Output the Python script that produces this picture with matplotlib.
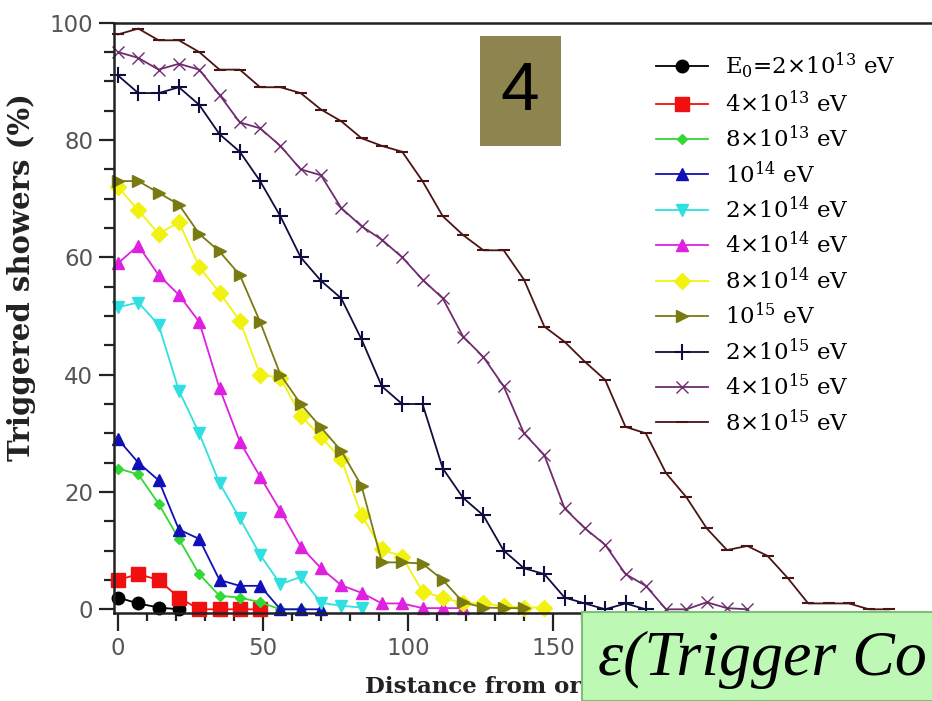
import matplotlib
matplotlib.use("Agg")
import matplotlib.pyplot as plt
from matplotlib.patches import Rectangle
from matplotlib.ticker import MultipleLocator

plt.rcParams['mathtext.fontset'] = 'dejavuserif'

W, H = 932, 701
step = 7  # distance step between points

labels = [r'E$_0$=2×10$^{13}$ eV', r'4×10$^{13}$ eV', r'8×10$^{13}$ eV', r'10$^{14}$ eV',
          r'2×10$^{14}$ eV', r'4×10$^{14}$ eV', r'8×10$^{14}$ eV', r'10$^{15}$ eV',
          r'2×10$^{15}$ eV', r'4×10$^{15}$ eV', r'8×10$^{15}$ eV']
x_ticks = [0, 50, 100, 150, 200, 250]
x_tick_labels = ['0', '50', '100', '150', '', '']

e_2e13 = [2, 1, 0.3, 0]
e_4e13 = [5, 6, 5, 2, 0, 0, 0, 0]
e_8e13 = [24, 23, 18, 12, 6, 2.3, 2, 1.2, 0, 0]
e_1e14 = [29, 25, 22, 13.6, 12, 5, 4, 4, 0, 0, 0]
e_2e14 = [51.5, 52.3, 48.5, 37.3, 30, 21.5, 15.5, 9.3, 4.3, 5.5, 1.1, 0.6, 0.3]
e_4e14 = [59, 62, 57, 53.6, 49, 37.7, 28.6, 22.6, 16.8, 10.7, 7, 4.1, 2.8, 1, 1, 0.2, 0.2, 0.2]
e_8e14 = [72, 68, 64, 66, 58.4, 54, 49.2, 40, 39.5, 33, 29.4, 25.6, 16, 10.2, 9, 3, 2, 1, 1,
          0.5, 0.3, 0.3]
e_1e15 = [73, 73, 71, 69, 64, 61, 57, 49, 40, 35, 31, 27, 21, 8, 8, 7.8, 5, 1.2, 0.3, 0.2, 0.2]
e_2e15 = [91, 88, 88, 89, 86, 81, 78, 73, 67, 60, 56, 53, 46, 38, 35, 35, 24, 19, 16, 10, 7, 6,
          2, 1, 0, 1, 0]
e_4e15 = [95, 94, 92, 93, 92, 87.7, 83, 82, 79, 75, 74, 68.4, 65.3, 63, 60, 56.2, 53, 46.5, 43,
          38, 30, 26.3, 17.2, 13.8, 11, 6, 4, 0, 0, 1.2, 0.2, 0]
e_8e15 = [98, 99, 97, 97, 95, 92, 92, 89, 89, 88, 85.2, 83.2, 80.3, 79, 78, 73, 67, 63.8, 61.2,
          61.2, 56.2, 48.2, 45.6, 42.2, 39.1, 31.1, 30, 23.2, 19.1, 13.8, 10.1, 10.8, 9.1, 5.3,
          1, 1, 1, 0, 0]

series = [e_2e13, e_4e13, e_8e13, e_1e14, e_2e14, e_4e14, e_8e14, e_1e15, e_2e15, e_4e15, e_8e15]
colors = ['#000000', '#F01010', '#33D833', '#1010B8', '#30E0E0', '#E020E0', '#F2F210',
          '#7A7A12', '#0E0E40', '#6E2C6E', '#4A1515']
markers = ['o', 's', 'D', '^', 'v', '^', 'D', '>', '+', 'x', '_']
msizes = [9, 10, 5.5, 8, 9, 9, 8, 9, 11, 9, 9]
mews = [1, 1, 1, 1, 1, 1, 1, 1, 1.5, 1.0, 1.5]

fig = plt.figure(figsize=(W / 100, H / 100), dpi=100)
ax = fig.add_axes([114 / W, 1 - 613 / H, (945 - 114) / W, (613 - 22.7) / H])

for ys, c, m, ms, mew, lab in zip(series, colors, markers, msizes, mews, labels):
    xs = [step * i for i in range(len(ys))]
    ax.plot(xs, ys, color=c, marker=m, markersize=ms, markeredgewidth=mew, lw=1.3,
            markeredgecolor=c, markerfacecolor=c, label=lab, clip_on=False)

ax.set_xlim(-1.38, (945 - 118) / 2.9)
ax.set_ylim(-0.63, 100)
ax.set_xticks(x_ticks, x_tick_labels)
ax.xaxis.set_minor_locator(MultipleLocator(10))
ax.yaxis.set_major_locator(MultipleLocator(20))
ax.yaxis.set_minor_locator(MultipleLocator(5))
ax.tick_params(which='both', direction='out', width=1.6, color='#222222')
ax.tick_params(axis='x', which='major', length=13, labelsize=16.5, labelcolor='#555555', pad=4)
ax.tick_params(axis='x', which='minor', length=6)
ax.tick_params(axis='y', which='major', length=11, labelsize=16.5, labelcolor='#555555', pad=4)
ax.tick_params(axis='y', which='minor', length=7.5)
for lab in ax.get_xticklabels() + ax.get_yticklabels():
    lab.set_fontfamily('DejaVu Sans')
for s in ['left', 'bottom', 'top']:
    ax.spines[s].set_linewidth(1.8)
    ax.spines[s].set_color('#222222')
ax.spines['right'].set_visible(False)

fig.text(22 / W, 1 - 277 / H, 'Triggered showers (%)', rotation=90, ha='center', va='center',
         fontsize=21, fontweight='bold', family='DejaVu Serif', color='#222222')
fig.text(365 / W, 1 - 687 / H, 'Distance from or', ha='left', va='center',
         fontsize=16.5, fontweight='bold', family='DejaVu Serif', color='#222222', zorder=1)

leg = ax.legend(loc='upper left', bbox_to_anchor=(656 / W, 1 - 51 / H),
                bbox_transform=fig.transFigure, frameon=False, borderpad=0, borderaxespad=0,
                handlelength=2.27, handletextpad=0.74, labelspacing=0.39,
                prop={'family': 'DejaVu Serif', 'size': 16.5})

# "4" badge
fig.patches.append(Rectangle((480 / W, 1 - 146 / H), 81 / W, 110 / H, transform=fig.transFigure,
                             facecolor='#8E8450', edgecolor='none', zorder=5))
fig.text(520 / W, 1 - 92 / H, '4', ha='center', va='center', fontsize=50,
         family='Liberation Sans', color='black', zorder=6)

# green caption box
fig.patches.append(Rectangle((582 / W, 0), (W - 582 + 5) / W, (H - 612) / H,
                             transform=fig.transFigure, facecolor='#BDF8B5',
                             edgecolor='#7DBF78', linewidth=1.5, zorder=10))
fig.text(598 / W, 1 - 660 / H, 'ε(Trigger Co', ha='left', va='center', fontsize=46,
         family='Liberation Serif', style='italic', color='black', zorder=11)

fig.savefig('out.png', dpi=100)
